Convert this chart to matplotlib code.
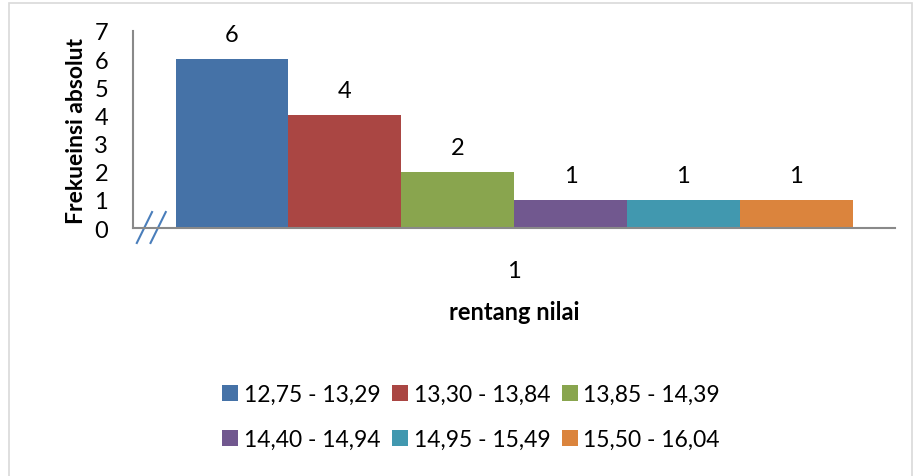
import matplotlib.pyplot as plt
import numpy as np
from matplotlib.patches import Rectangle
from matplotlib.lines import Line2D

plt.rcParams['font.family'] = ['Lato', 'DejaVu Sans']

# data
ranges = ['12,75 - 13,29', '13,30 - 13,84', '13,85 - 14,39',
          '14,40 - 14,94', '14,95 - 15,49', '15,50 - 16,04']
freq = [6, 4, 2, 1, 1, 1]
colors = ['#4572A7', '#AA4643', '#89A54E', '#71588F', '#4198AF', '#DB843D']
category = ['1']

fig = plt.figure(figsize=(9.14, 4.77), dpi=100)
# outer chart border like excel
fig.patches.append(Rectangle((9 / 914, -0.01), 903 / 914, 1 - 4 / 477 + 0.01,
                             transform=fig.transFigure, fill=False,
                             edgecolor='#d9d9d9', linewidth=1.2))

ax = fig.add_axes([133 / 914, 1 - 229 / 477, 762 / 914, 197 / 477])

w = 677 / 762 / len(freq)
x0 = np.arange(len(category))
bars = []
for i, (lab, v, c) in enumerate(zip(ranges, freq, colors)):
    pos = x0 + (i - (len(freq) - 1) / 2) * w
    bars.append(ax.bar(pos, v, width=w, color=c, label=lab))
    ax.text(pos[0], v + 0.64, str(v), ha='center', va='baseline', fontsize=17)

ax.set_xlim(-0.5, 0.5)
ax.set_ylim(0, 7)
ax.set_yticks(range(0, 8))
ax.set_xticks(x0)
ax.set_xticklabels(category)
ax.tick_params(axis='both', length=0, labelsize=17)
ax.tick_params(axis='y', pad=18)
ax.tick_params(axis='x', pad=23)
for s in ['top', 'right']:
    ax.spines[s].set_visible(False)
for s in ['left', 'bottom']:
    ax.spines[s].set_color('#898989')
    ax.spines[s].set_linewidth(1.5)

ax.set_ylabel('Frekueinsi absolut', fontsize=16.5, fontweight='bold', labelpad=5)
ax.set_xlabel('rentang nilai', fontsize=17, fontweight='bold', labelpad=14)

# axis break mark
for dx in (0.0, 0.018):
    ax.add_line(Line2D([0.005 + dx, 0.025 + dx], [-0.076, 0.081],
                       transform=ax.transAxes, color='#4a7ebb',
                       linewidth=1.5, clip_on=False))

# legend filled row by row (matplotlib fills columns first)
ncol = 3
order = [r * ncol + c for c in range(ncol) for r in range(2)]
handles = [bars[k] for k in order]
labels = [ranges[k] for k in order]
fig.legend(handles, labels, ncol=ncol, loc='center',
           bbox_to_anchor=(471 / 914, 1 - 418 / 477), frameon=False,
           fontsize=16.5, handlelength=0.7, handleheight=0.7,
           handletextpad=0.25, columnspacing=0.5, labelspacing=1.05)

fig.savefig('out.png', dpi=100)
